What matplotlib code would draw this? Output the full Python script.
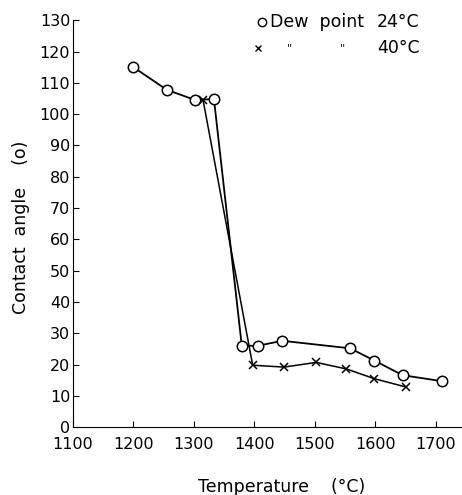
import matplotlib
matplotlib.use('Agg')
import matplotlib.pyplot as plt

# dew point 24 C (open circles)
t_24 = [1200, 1255, 1301, 1333, 1379, 1405, 1446, 1558, 1598, 1645, 1710]
ang_24 = [115, 107.8, 104.6, 104.8, 26, 26, 27.6, 25.2, 21.3, 16.6, 14.7]

# dew point 40 C (crosses)
t_40 = [1315, 1397, 1449, 1502, 1552, 1598, 1651]
ang_40 = [104.5, 19.8, 19.2, 20.7, 18.6, 15.5, 12.8]

xticks = [1100, 1200, 1300, 1400, 1500, 1600, 1700]
yticks = list(range(0, 131, 10))

plt.rcParams['font.family'] = 'DejaVu Sans'
fig = plt.figure(figsize=(4.62, 4.95), dpi=100)
ax = fig.add_axes([0.158, 0.137, 0.842, 0.822])

ax.plot(t_24, ang_24, color='black', lw=1.3, marker='o', ms=7.5,
        mfc='white', mec='black', mew=1.1, zorder=3)
ax.plot(t_40, ang_40, color='black', lw=1.1, marker='x', ms=6,
        mew=1.1, zorder=3)

ax.set_xlim(1100, 1743)
ax.set_ylim(0, 130)
ax.set_xticks(xticks)
ax.set_yticks(yticks)
ax.tick_params(direction='in', length=4, width=0.8, labelsize=11.5)
ax.tick_params(axis='x', pad=7)
ax.tick_params(axis='y', pad=2)
ax.spines['top'].set_visible(False)
ax.spines['right'].set_visible(False)

ax.set_xlabel('Temperature    (°C)', fontsize=12.5)
ax.xaxis.set_label_coords(0.537, -0.125)
ax.set_ylabel('Contact  angle    (o)', fontsize=12.5)
ax.yaxis.set_label_coords(-0.11, 0.49)

# hand-lettered key in the top right
ax.plot([1412], [129.3], marker='o', ms=6, mfc='white', mec='black',
        mew=1, clip_on=False)
ax.text(1426, 129.3, 'Dew  point', fontsize=12.5, va='center')
ax.text(1602, 129.3, '24°C', fontsize=12.5, va='center')
ax.plot([1405], [121], marker='x', ms=5, color='black', mew=1,
        clip_on=False)
ax.text(1453, 121, '"', fontsize=8, va='center')
ax.text(1541, 121, '"', fontsize=8, va='center')
ax.text(1602, 121, '40°C', fontsize=12.5, va='center')

fig.savefig('out.png', dpi=100)
